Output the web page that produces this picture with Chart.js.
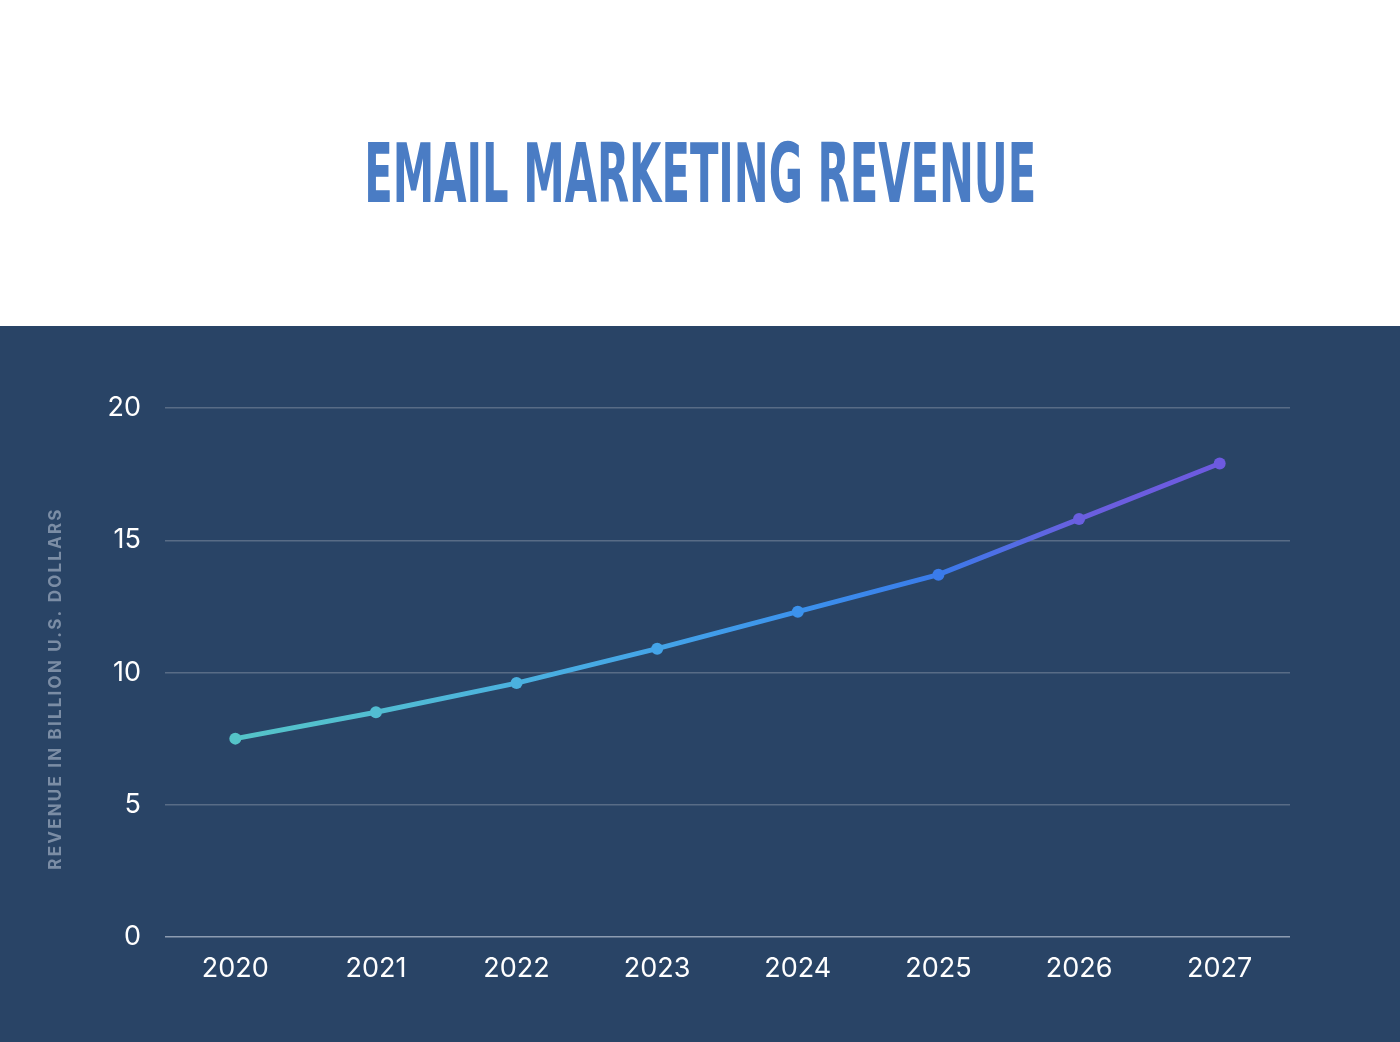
<!DOCTYPE html>
<html>
<head>
<meta charset="utf-8">
<script src="https://cdn.jsdelivr.net/npm/chart.js@4.4.1/dist/chart.umd.min.js"></script>
<style>
  html, body { margin: 0; padding: 0; background: #ffffff; }
  #page { position: relative; width: 1400px; height: 1042px; overflow: hidden; }
  #title {
    position: absolute; left: 0; top: 129px; width: 1400px; text-align: center;
    margin: 0; font-family: 'Liberation Sans Narrow', 'DejaVu Sans Condensed', sans-serif;
    font-weight: bold; font-size: 82px; line-height: 90px; color: #4a7cc4; white-space: nowrap;
  }
  #title span { display: inline-block; transform-origin: center center; }
  #panel { position: absolute; left: 0; top: 326px; width: 1400px; height: 716px; background: #294466; }
</style>
</head>
<body>
<div id="page">
  <h1 id="title"><span>EMAIL MARKETING REVENUE</span></h1>
  <div id="panel"><canvas id="myChart" width="1400" height="716"></canvas></div>
</div>
<script>
const years = ['2020', '2021', '2022', '2023', '2024', '2025', '2026', '2027'];
const revenue = [7.5, 8.5, 9.6, 10.9, 12.3, 13.7, 15.8, 17.9];
const yTicks = [0, 5, 10, 15, 20];

// squeeze the title to the condensed look of the original
const span = document.querySelector('#title span');
const w = span.getBoundingClientRect().width;
span.style.transform = 'scaleX(' + (672 / w) + ')';

const pointColors = ['#55c4c8', '#52bdd2', '#4bb1df', '#44a4e8', '#3c92ec', '#3a7bea', '#6a5fdf', '#6d5ae0'];

function lineGradient(ctx) {
    const area = ctx.chart.chartArea;
    if (!area) return pointColors[0];
    const g = ctx.chart.ctx.createLinearGradient(area.left, 0, area.right, 0);
    pointColors.forEach(function (c, i) {
        g.addColorStop((i + 0.5) / pointColors.length, c);
    });
    return g;
}

// spaced out axis title, nudged a bit lower like the original
function spacedTitle(s) {
    if (s._spaced) return;
    s._spaced = true;
    const orig = s.drawTitle;
    s.drawTitle = function () {
        const c = this.ctx;
        c.save();
        c.letterSpacing = '2.2px';
        c.translate(0, 16);
        orig.apply(this, arguments);
        c.restore();
    };
}

Chart.defaults.font.family = 'Inter, "Noto Sans", sans-serif';

new Chart(document.getElementById('myChart').getContext('2d'), {
    type: 'line',
    data: {
        labels: years,
        datasets: [{
            data: revenue,
            borderColor: lineGradient,
            borderWidth: 5,
            pointRadius: 6,
            pointHoverRadius: 6,
            pointBorderWidth: 0,
            pointBackgroundColor: pointColors,
            tension: 0
        }]
    },
    options: {
        responsive: false,
        animation: false,
        layout: { padding: { top: 82, right: 110, left: 0, bottom: 0 } },
        plugins: { legend: { display: false }, tooltip: { enabled: false } },
        scales: {
            x: {
                offset: true,
                grid: { display: false, drawTicks: false },
                border: { display: false },
                ticks: { color: '#ffffff', font: { size: 27 }, padding: 16 },
                afterFit: function (s) { s.height = 105; }
            },
            y: {
                min: 0,
                max: 20,
                afterBuildTicks: function (s) { s.ticks = yTicks.map(function (v) { return { value: v }; }); },
                grid: {
                    drawTicks: false,
                    lineWidth: 1.5,
                    color: function (c) { return c.tick && c.tick.value === 0 ? '#8d9cb1' : '#586c86'; }
                },
                border: { display: false },
                ticks: { color: '#ffffff', font: { size: 27 }, padding: 24 },
                title: {
                    display: true,
                    text: 'REVENUE IN BILLION U.S. DOLLARS',
                    color: '#7b8da5',
                    font: { size: 17, weight: 'bold' },
                    padding: { top: 46, bottom: 0 }
                },
                afterFit: function (s) { spacedTitle(s); s.width = 165; }
            }
        }
    }
});
</script>
</body>
</html>
